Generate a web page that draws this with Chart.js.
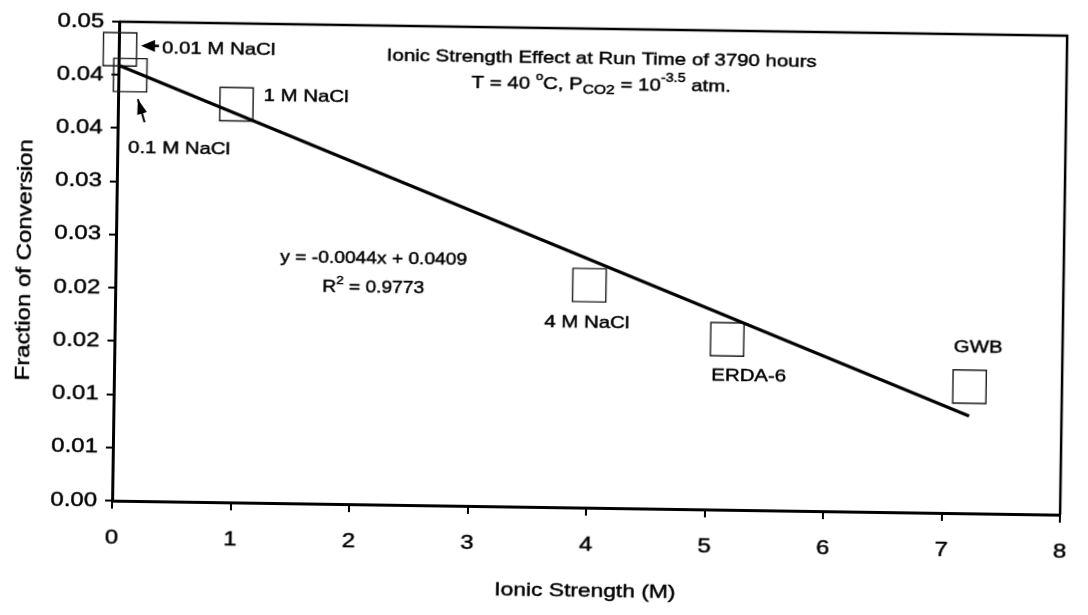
<!DOCTYPE html>
<html>
<head>
<meta charset="utf-8">
<title>Ionic Strength Effect</title>
<script src="https://cdn.jsdelivr.net/npm/chart.js@4.4.0/dist/chart.umd.min.js"></script>
<style>
  html, body { margin: 0; padding: 0; background: #fff; overflow: hidden; }
  /* the whole figure sits slightly skewed on the page */
  #wrap { width: 1088px; height: 615px; transform: rotate(0.85deg); transform-origin: 50% 50%; }
</style>
</head>
<body>
<div id="wrap"><canvas id="chart" width="1088" height="615"></canvas></div>
<script>
// solutions and measured fraction of conversion at 3790 h
const solutions = ['0.01 M NaCl', '0.1 M NaCl', '1 M NaCl', '4 M NaCl', 'ERDA-6', 'GWB'];
const ionicStrength = [0.01, 0.1, 1, 4, 5.17, 7.22];
const conversion = [0.0424, 0.0400, 0.0374, 0.0209, 0.0160, 0.0119];

// least squares fit printed on the chart
const fitSlope = -0.0044;
const fitIntercept = 0.0409;
const fitR2 = '0.9773';

// axis ticks (y labels are rounded to 2 places, so they repeat)
const xTickValues = [0, 1, 2, 3, 4, 5, 6, 7, 8];
const yTickValues = [0, 0.005, 0.01, 0.015, 0.02, 0.025, 0.03, 0.035, 0.04, 0.045];
const yTickLabels = ['0.00', '0.01', '0.01', '0.02', '0.02', '0.03', '0.03', '0.04', '0.04', '0.05'];

const FONT = '"Liberation Sans", Arial, sans-serif';
const STRETCH = 1.2; // the lettering is set wide

// where each point label goes, relative to its marker
const labelPos = [
  { dx: 42, dy: -1, align: 'left' },
  { dx: -1, dy: 73, align: 'left' },
  { dx: 27, dy: -9, align: 'left' },
  { dx: -2, dy: 38, align: 'center' },
  { dx: 22, dy: 37, align: 'center' },
  { dx: 8, dy: -39, align: 'center' }
];

const points = ionicStrength.map((x, i) => ({ x: x, y: conversion[i] }));
const fitEnds = [ionicStrength[0], ionicStrength[ionicStrength.length - 1]];
const fitLine = fitEnds.map(x => ({ x: x, y: fitSlope * x + fitIntercept }));

// stretch every piece of text horizontally around its anchor point,
// with a hairline outline so it prints a little heavier
const widePlugin = {
  id: 'wide',
  beforeInit(chart) {
    const ctx = chart.ctx;
    const fill = ctx.fillText.bind(ctx);
    const stroke = ctx.strokeText.bind(ctx);
    const measure = ctx.measureText.bind(ctx);
    ctx.fillText = function (text, x, y) {
      ctx.save();
      ctx.translate(x, y);
      ctx.scale(STRETCH, 1);
      fill(text, 0, 0);
      ctx.strokeStyle = ctx.fillStyle;
      ctx.lineWidth = 0.45;
      stroke(text, 0, 0);
      ctx.restore();
    };
    ctx.measureText = function (text) {
      const m = measure(text);
      return {
        width: m.width * STRETCH,
        actualBoundingBoxAscent: m.actualBoundingBoxAscent,
        actualBoundingBoxDescent: m.actualBoundingBoxDescent
      };
    };
  }
};

// top and right sides of the plot frame
const framePlugin = {
  id: 'frame',
  beforeDatasetsDraw(chart) {
    const { ctx, chartArea: a } = chart;
    ctx.save();
    ctx.strokeStyle = '#000';
    ctx.lineWidth = 2.5;
    ctx.beginPath();
    ctx.moveTo(a.left, a.top);
    ctx.lineTo(a.right, a.top);
    ctx.lineTo(a.right, a.bottom);
    ctx.stroke();
    ctx.restore();
  }
};

// writes a run of text pieces, some raised or lowered
function runText(ctx, parts, x, y) {
  parts.forEach(p => {
    ctx.font = p.size + 'px ' + FONT;
    ctx.fillText(p.t, x, y + (p.shift || 0));
    x += ctx.measureText(p.t).width;
  });
  return x;
}
function runWidth(ctx, parts) {
  let w = 0;
  parts.forEach(p => { ctx.font = p.size + 'px ' + FONT; w += ctx.measureText(p.t).width; });
  return w;
}

const notesPlugin = {
  id: 'notes',
  afterDraw(chart) {
    const ctx = chart.ctx;
    const meta = chart.getDatasetMeta(0);
    ctx.save();
    ctx.fillStyle = '#000';
    ctx.strokeStyle = '#000';
    ctx.textBaseline = 'middle';

    // point labels
    ctx.font = '17px ' + FONT;
    meta.data.forEach((el, i) => {
      const lp = labelPos[i];
      ctx.textAlign = lp.align;
      ctx.fillText(solutions[i], el.x + lp.dx, el.y + lp.dy);
    });

    // arrow pointing at the 0.01 M marker
    const p0 = meta.data[0];
    ctx.beginPath();
    ctx.moveTo(p0.x + 21, p0.y - 4);
    ctx.lineTo(p0.x + 35, p0.y - 10);
    ctx.lineTo(p0.x + 35, p0.y + 2);
    ctx.closePath();
    ctx.fill();
    ctx.lineWidth = 2.5;
    ctx.beginPath();
    ctx.moveTo(p0.x + 33, p0.y - 4);
    ctx.lineTo(p0.x + 39, p0.y - 4);
    ctx.stroke();

    // arrow pointing up at the 0.1 M marker
    const p1 = meta.data[1];
    const tip = { x: p1.x + 8, y: p1.y + 24 };
    const tail = { x: p1.x + 15, y: p1.y + 47 };
    const ang = Math.atan2(tail.y - tip.y, tail.x - tip.x);
    ctx.lineWidth = 2;
    ctx.beginPath();
    ctx.moveTo(tip.x, tip.y);
    ctx.lineTo(tail.x, tail.y);
    ctx.stroke();
    ctx.beginPath();
    ctx.moveTo(tip.x, tip.y);
    ctx.lineTo(tip.x + 15 * Math.cos(ang) - 5 * Math.sin(ang), tip.y + 15 * Math.sin(ang) + 5 * Math.cos(ang));
    ctx.lineTo(tip.x + 15 * Math.cos(ang) + 5 * Math.sin(ang), tip.y + 15 * Math.sin(ang) - 5 * Math.cos(ang));
    ctx.closePath();
    ctx.fill();

    // chart heading, two lines
    ctx.textAlign = 'left';
    const head1 = [{ t: 'Ionic Strength Effect at Run Time of 3790 hours', size: 17 }];
    const head2 = [
      { t: 'T = 40 ', size: 17 },
      { t: 'o', size: 11, shift: -7 },
      { t: 'C, P', size: 17 },
      { t: 'CO2', size: 13, shift: 5 },
      { t: ' = 10', size: 17 },
      { t: '-3.5', size: 12, shift: -7 },
      { t: ' atm.', size: 17 }
    ];
    const cx = 598;
    runText(ctx, head1, cx - runWidth(ctx, head1) / 2, 58);
    runText(ctx, head2, cx - runWidth(ctx, head2) / 2, 84);

    // fit equation
    const sign = fitIntercept >= 0 ? ' + ' : ' - ';
    const eq = [{ t: 'y = ' + fitSlope.toFixed(4) + 'x' + sign + Math.abs(fitIntercept).toFixed(4), size: 16 }];
    const r2 = [{ t: 'R', size: 16 }, { t: '2', size: 11, shift: -7 }, { t: ' = ' + fitR2, size: 16 }];
    const ex = 373;
    runText(ctx, eq, ex - runWidth(ctx, eq) / 2, 262);
    runText(ctx, r2, ex - runWidth(ctx, r2) / 2, 291);

    ctx.restore();
  }
};

new Chart(document.getElementById('chart'), {
  type: 'scatter',
  data: {
    datasets: [
      {
        label: 'Fraction of conversion',
        data: points,
        pointStyle: 'rect',
        pointRadius: 23.5,
        pointHoverRadius: 23.5,
        pointBorderWidth: 1.4,
        pointBorderColor: '#1a1a1a',
        pointBackgroundColor: 'rgba(255,255,255,0)',
        clip: false,
        order: 2
      },
      {
        label: 'Linear fit',
        data: fitLine,
        showLine: true,
        borderColor: '#000',
        borderWidth: 3.2,
        pointRadius: 0,
        fill: false,
        order: 1
      }
    ]
  },
  options: {
    responsive: false,
    animation: false,
    devicePixelRatio: 1,
    layout: { padding: { top: 28, right: 6, left: 0, bottom: 0 } },
    plugins: { legend: { display: false }, tooltip: { enabled: false } },
    scales: {
      x: {
        type: 'linear',
        min: 0,
        max: 8,
        afterBuildTicks: s => { s.ticks = xTickValues.map(v => ({ value: v })); },
        afterFit: s => { s.height = 108; },
        border: { display: true, color: '#000', width: 3 },
        grid: { drawOnChartArea: false, drawTicks: true, tickLength: 8, tickColor: '#000', lineWidth: 2 },
        ticks: { color: '#000', padding: 17, autoSkip: false, maxRotation: 0, font: { family: FONT, size: 20 } },
        title: { display: true, text: 'Ionic Strength (M)', color: '#000', padding: { top: 0, bottom: 13 }, font: { family: FONT, size: 19 } }
      },
      y: {
        type: 'linear',
        min: 0,
        max: 0.045,
        afterBuildTicks: s => { s.ticks = yTickValues.map(v => ({ value: v })); },
        afterFit: s => { s.width = 115; },
        border: { display: true, color: '#000', width: 3 },
        grid: { drawOnChartArea: false, drawTicks: true, tickLength: 7, tickColor: '#000', lineWidth: 2 },
        ticks: { color: '#000', padding: 8, autoSkip: false, font: { family: FONT, size: 20 }, callback: (v, i) => yTickLabels[i] },
        title: { display: true, text: 'Fraction of Conversion', color: '#000', padding: { top: 12, bottom: 0 }, font: { family: FONT, size: 20 } }
      }
    }
  },
  plugins: [widePlugin, framePlugin, notesPlugin]
});
</script>
</body>
</html>
